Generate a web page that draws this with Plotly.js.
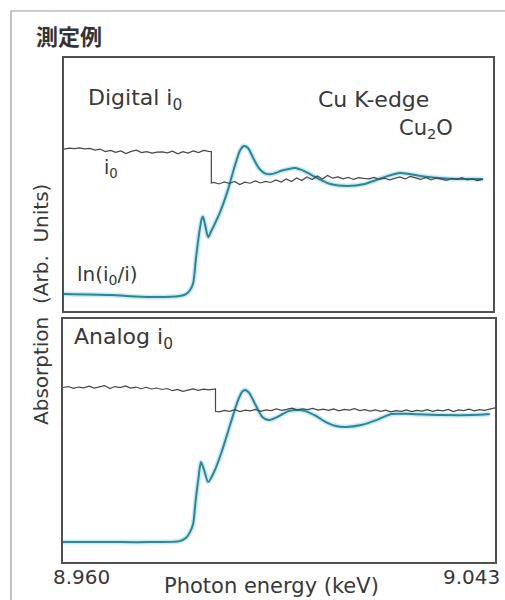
<!DOCTYPE html>
<html>
<head>
<meta charset="utf-8">
<script src="https://cdn.plot.ly/plotly-3.0.1.min.js"></script>
<style>html,body{margin:0;padding:0;background:#fff;overflow:hidden;}#chart{width:505px;height:600px;}</style>
</head>
<body>
<div id="chart"></div>
<script>
// ---------- Data (energy in keV, absorption in arbitrary units) ----------
const topI0Energy = [8.960,8.961,8.962,8.963,8.964,8.965,8.966,8.967,8.968,8.969,8.970,8.971,8.972,8.973,8.974,8.975,8.976,8.977,8.978,8.979,8.980,8.981,8.982,8.983,8.984,8.985,8.986,8.987,8.988,
  8.9885,8.9885,
  8.989,8.990,8.991,8.992,8.993,8.994,8.995,8.996,8.997,8.998,8.999,9.000,9.001,9.002,9.003,9.004,9.005,9.006,9.007,9.008,9.009,9.010,9.011,9.012,9.013,9.014,9.015,9.016,9.017,9.018,9.019,9.020,9.021,9.022,9.023,9.024,9.025,9.026,9.027,9.028,9.029,9.030,9.031,9.032,9.033,9.034,9.035,9.036,9.037,9.038,9.039,9.040,9.041];
const topI0 = [6.40,6.44,6.42,6.45,6.41,6.43,6.36,6.40,6.30,6.35,6.27,6.33,6.22,6.31,6.36,6.26,6.30,6.24,6.28,6.29,6.25,6.32,6.21,6.30,6.24,6.33,6.26,6.35,6.31,
  6.30,5.06,
  5.08,5.02,5.10,5.04,5.12,5.00,5.09,5.05,5.14,5.06,5.12,5.08,5.18,5.10,5.22,5.12,5.26,5.16,5.30,5.20,5.34,5.22,5.36,5.25,5.30,5.22,5.28,5.20,5.27,5.24,5.22,5.28,5.20,5.25,5.18,5.24,5.30,5.22,5.32,5.26,5.20,5.28,5.18,5.26,5.22,5.16,5.24,5.20,5.27,5.18,5.22,5.15,5.20];

const topAbsEnergy = [8.9600,8.9689,8.9766,8.9824,8.9836,8.9844,8.9850,8.9855,8.9861,8.9867,8.9869,8.9873,8.9879,8.9884,8.9902,8.9917,8.9931,8.9941,8.9948,8.9956,8.9966,8.9977,8.9991,9.0004,9.0022,9.0047,9.0066,9.0089,9.0115,9.0148,9.0182,9.0221,9.0250,9.0289,9.0327,9.0366,9.0411];
const topAbs = [0.67,0.63,0.55,0.59,0.67,0.83,1.11,2.02,3.00,3.68,3.72,3.40,2.92,3.12,3.91,4.78,5.77,6.36,6.52,6.44,6.05,5.65,5.42,5.42,5.55,5.65,5.52,5.26,5.02,4.94,5.02,5.30,5.45,5.34,5.26,5.22,5.22];

const botI0Energy = [8.960,8.961,8.962,8.963,8.964,8.965,8.966,8.967,8.968,8.969,8.970,8.971,8.972,8.973,8.974,8.975,8.976,8.977,8.978,8.979,8.980,8.981,8.982,8.983,8.984,8.985,8.986,8.987,8.988,8.989,
  8.9893,8.9893,
  8.990,8.991,8.992,8.993,8.994,8.995,8.996,8.997,8.998,8.999,9.000,9.001,9.002,9.003,9.004,9.005,9.006,9.007,9.008,9.009,9.010,9.011,9.012,9.013,9.014,9.015,9.016,9.017,9.018,9.019,9.020,9.021,9.022,9.023,9.024,9.025,9.026,9.027,9.028,9.029,9.030,9.031,9.032,9.033,9.034,9.035,9.036,9.037,9.038,9.039,9.040,9.041,9.042,9.043];
const botI0 = [7.18,7.22,7.15,7.20,7.17,7.24,7.16,7.21,7.26,7.14,7.22,7.18,7.25,7.16,7.20,7.13,7.19,7.12,7.16,7.10,7.14,7.05,7.10,7.02,7.08,7.12,7.06,7.11,7.08,7.12,
  7.12,6.20,
  6.18,6.24,6.20,6.27,6.19,6.25,6.22,6.28,6.20,6.26,6.23,6.30,6.24,6.28,6.33,6.26,6.30,6.27,6.32,6.25,6.29,6.24,6.30,6.22,6.28,6.25,6.31,6.23,6.27,6.21,6.26,6.20,6.25,6.18,6.23,6.20,6.26,6.19,6.24,6.21,6.27,6.20,6.25,6.22,6.28,6.19,6.26,6.23,6.29,6.22,6.27,6.24,6.30,6.34];

const botAbsEnergy = [8.9600,8.9689,8.9766,8.9824,8.9836,8.9844,8.9850,8.9855,8.9861,8.9865,8.9871,8.9879,8.9892,8.9906,8.9921,8.9935,8.9944,8.9950,8.9958,8.9970,8.9983,8.9995,9.0008,9.0022,9.0033,9.0051,9.0066,9.0086,9.0105,9.0124,9.0144,9.0173,9.0202,9.0231,9.0269,9.0327,9.0385,9.0420];
const botAbs = [0.82,0.82,0.82,0.86,0.99,1.23,1.56,2.55,3.58,4.12,3.79,3.29,3.79,4.61,5.64,6.58,7.00,7.08,6.95,6.46,5.97,5.84,5.93,6.09,6.21,6.26,6.21,6.01,5.76,5.60,5.56,5.64,5.84,6.09,6.09,6.05,6.05,6.09];

const xTickLabels = ['8.960', '9.043'];
const xTitle = 'Photon energy (keV)';
const yTitle = 'Absorption\u00A0 (Arb.\u00A0\u00A0Units)';

// ---------- Styles ----------
const W = 505, H = 600;
const px = v => v / W;
const py = v => 1 - v / H;
const grey = '#474747';
const teal = 'rgb(50,132,148)';
const glow = 'rgba(150,220,238,0.55)';
const txt = '#383838';
const FONT = 'DejaVu Sans, Liberation Sans, sans-serif';

function i0Trace(x, y, xa, ya) {
  return {x, y, xaxis: xa, yaxis: ya, mode: 'lines', type: 'scatter',
    line: {color: grey, width: 1.2}, hoverinfo: 'skip'};
}
function absTraces(x, y, xa, ya) {
  return [
    {x, y, xaxis: xa, yaxis: ya, mode: 'lines', type: 'scatter',
      line: {color: glow, width: 5, shape: 'spline', smoothing: 0.7}, hoverinfo: 'skip'},
    {x, y, xaxis: xa, yaxis: ya, mode: 'lines', type: 'scatter',
      line: {color: teal, width: 2, shape: 'spline', smoothing: 0.7}, hoverinfo: 'skip'}
  ];
}

const traces = [
  ...absTraces(topAbsEnergy, topAbs, 'x', 'y'),
  i0Trace(topI0Energy, topI0, 'x', 'y'),
  ...absTraces(botAbsEnergy, botAbs, 'x2', 'y2'),
  i0Trace(botI0Energy, botI0, 'x2', 'y2')
];

const axisCommon = {showgrid: false, zeroline: false, showticklabels: false, ticks: '',
  showline: true, mirror: true, linecolor: '#505050', linewidth: 1.6, fixedrange: true};

function ann(text, x, y, size, opts) {
  return Object.assign({text, x: px(x), y: py(y), xref: 'paper', yref: 'paper',
    showarrow: false, xanchor: 'left', yanchor: 'middle',
    font: {family: FONT, size: size, color: txt}}, opts || {});
}

const layout = {
  width: W, height: H,
  margin: {l: 0, r: 0, t: 0, b: 0},
  paper_bgcolor: '#fff', plot_bgcolor: '#fff',
  showlegend: false,
  xaxis: Object.assign({}, axisCommon, {domain: [px(64), px(493)], range: [8.960, 9.043], anchor: 'y'}),
  yaxis: Object.assign({}, axisCommon, {domain: [py(311), py(58)], range: [0, 10], anchor: 'x'}),
  xaxis2: Object.assign({}, axisCommon, {domain: [px(63), px(495)], range: [8.960, 9.043], anchor: 'y2'}),
  yaxis2: Object.assign({}, axisCommon, {domain: [py(562), py(319)], range: [0, 10], anchor: 'x2'}),
  shapes: [
    {type: 'rect', xref: 'paper', yref: 'paper', x0: px(11), x1: 1.05, y0: -0.05, y1: py(11),
      line: {color: '#9a9a9a', width: 1.2}, fillcolor: 'rgba(0,0,0,0)', layer: 'below'}
  ],
  annotations: [
    ann('<b>測定例</b>', 34, 35, 22, {font: {family: 'Noto Sans CJK JP, sans-serif', size: 22, color: '#333'}}),
    ann('Digital i<sub>0</sub>', 86, 99, 22),
    ann('Cu K-edge', 316, 99, 22),
    ann('Cu<sub>2</sub>O', 397, 129, 21),
    ann('i<sub>0</sub>', 102, 168, 19),
    ann('ln(i<sub>0</sub>/i)', 75, 275, 20),
    ann('Analog i<sub>0</sub>', 72, 339, 22),
    ann(xTickLabels[0], 81, 577, 20, {xanchor: 'center'}),
    ann(xTickLabels[1], 471, 577, 20, {xanchor: 'center'}),
    ann(xTitle, 271, 586, 21, {xanchor: 'center'}),
    ann(yTitle, 41, 305, 20, {xanchor: 'center', textangle: -90})
  ]
};

Plotly.newPlot('chart', traces, layout, {staticPlot: true, displayModeBar: false});
</script>
</body>
</html>
